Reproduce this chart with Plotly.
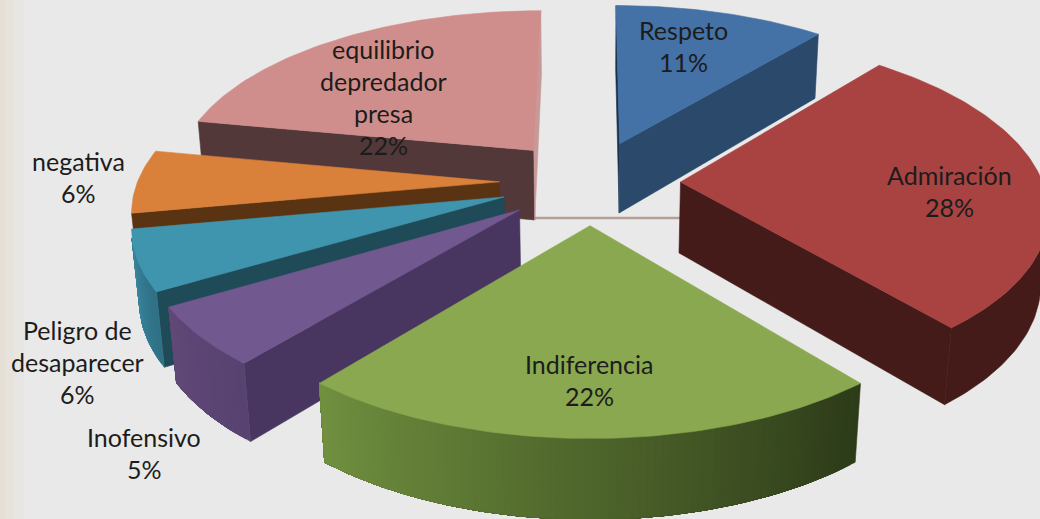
import math
import plotly.graph_objects as go

# ---- data ----
categories = ["Respeto", "Admiración", "Indiferencia", "Inofensivo",
              "Peligro de desaparecer", "negativa", "equilibrio depredador presa"]
shares = [11, 28, 22, 5.5, 5.6, 5.9, 22]
percent_labels = ["11%", "28%", "22%", "5%", "6%", "6%", "22%"]
label_lines = [["Respeto"], ["Admiración"], ["Indiferencia"], ["Inofensivo"],
               ["Peligro de", "desaparecer"], ["negativa"],
               ["equilibrio", "depredador", "presa"]]

# ---- styles ----
top_colors = ["#4471a6", "#a84342", "#8aa84f", "#71588f", "#3f95ae", "#d9803a", "#cf8e8c"]
start_colors = ["#17324f", "#451b19", "#2f3f1a", "#483560", "#1f4a58", "#5a3312", "#53383a"]
end_colors = ["#2b4a6b", "#451b19", "#6d8a3e", "#5e4775", "#377f96", "#8c5220", "#c79a98"]
rim_start = ["#2b4a6b", "#451b19", "#2c3a18", "#574270", "#2f6f84", "#8c5220", "#53383a"]
rim_end = ["#2b4a6b", "#451b19", "#70903f", "#604877", "#3b8aa2", "#b06a30", "#53383a"]
label_centres = [(683, 30), (949, 175), (589, 364), (144, 437), (77, 330), (78, 161), (383, 49)]
line_step = 32
PULL, DEPTH, STEP = 0.25, 0.225, 1.0
CX, CY, L, D = 590, 182, 362, 6.15
THETA = math.radians(27.7)
BG = "#e9e9e9"


def project(X, Y, Z=0.0):
    d = D + Y * math.cos(THETA) - Z * math.sin(THETA)
    v = Y * math.sin(THETA) + Z * math.cos(THETA)
    return CX + L * D * X / d, CY - L * D * v / d


def rgb(h):
    return [int(h[i:i + 2], 16) for i in (1, 3, 5)]


def mix(a, b, t):
    a, b = rgb(a), rgb(b)
    return "rgb(%d,%d,%d)" % tuple(round(a[i] + (b[i] - a[i]) * t) for i in range(3))


EYE = (0.0, -D * math.cos(THETA))
fig = go.Figure()


def poly(points, color, stroke=0.6):
    xs = [p[0] for p in points] + [points[0][0]]
    ys = [p[1] for p in points] + [points[0][1]]
    fig.add_trace(go.Scatter(x=xs, y=ys, mode="lines", fill="toself", fillcolor=color,
                             line=dict(color=color, width=stroke), hoverinfo="skip", showlegend=False))


def band(path, color):
    upper = [project(*p, 0) for p in path]
    lower = [project(*p, -DEPTH) for p in reversed(path)]
    poly(upper + lower, color)


# thin base line seen between the slices
fig.add_trace(go.Scatter(x=[535, 680], y=[218, 218], mode="lines",
                         line=dict(color="#b79e96", width=2.5), hoverinfo="skip", showlegend=False))

slices, cumulative = [], 0.0
for i, s in enumerate(shares):
    a = cumulative * 3.6
    cumulative += s
    b = cumulative * 3.6
    slices.append((i, a, b))
slices.sort(key=lambda r: -math.cos(math.radians((r[1] + r[2]) / 2)))

for i, a, b in slices:
    mid = math.radians((a + b) / 2)
    ox, oy = PULL * math.sin(mid), PULL * math.cos(mid)
    n = max(2, int((b - a) / STEP))
    angs = [a + (b - a) * k / n for k in range(n + 1)]
    rim = [(ox + math.sin(math.radians(t)), oy + math.cos(math.radians(t))) for t in angs]
    apex = (ox, oy)
    ra, rb = math.radians(a), math.radians(b)
    if (-math.cos(ra)) * (EYE[0] - ox) + math.sin(ra) * (EYE[1] - oy) > 0:
        band([apex, rim[0]], start_colors[i])
    if math.cos(rb) * (EYE[0] - ox) - math.sin(rb) * (EYE[1] - oy) > 0:
        band([apex, rim[-1]], end_colors[i])
    visible = [k for k in range(n)
               if math.sin(math.radians((angs[k] + angs[k + 1]) / 2)) * (EYE[0] - rim[k][0])
               + math.cos(math.radians((angs[k] + angs[k + 1]) / 2)) * (EYE[1] - rim[k][1]) > 0]
    if visible:
        last = visible[-1] + 1
        bands = 1 if rim_start[i] == rim_end[i] else len(visible)
        chunk = max(1, len(visible) // bands)
        # each band runs to the end of the visible rim; the next one overpaints it, so no seams
        for k in visible[::chunk]:
            band(rim[k:last + 1], mix(rim_start[i], rim_end[i], (k + 0.5) / n))
    poly([project(*apex)] + [project(*r) for r in rim], top_colors[i])

annotations = []
for i, lines in enumerate(label_lines):
    x, y = label_centres[i]
    for j, text in enumerate(lines + [percent_labels[i]]):
        annotations.append(dict(x=x, y=y + j * line_step, text=text, showarrow=False,
                                xref="x", yref="y", xanchor="center", yanchor="middle",
                                font=dict(family="Lato", size=25, color="#1c1c1c")))

strip = [(0, 6, "#e5dfd6"), (6, 14, "#e7e3dc"), (14, 24, "#e8e6e2")]
shapes = [dict(type="rect", xref="x", yref="y", x0=p, x1=q, y0=0, y1=519, line_width=0,
               fillcolor=c, layer="below") for p, q, c in strip]

fig.update_layout(width=1040, height=519, margin=dict(l=0, r=0, t=0, b=0),
                  paper_bgcolor=BG, plot_bgcolor=BG, showlegend=False,
                  annotations=annotations, shapes=shapes,
                  xaxis=dict(range=[0, 1040], visible=False, fixedrange=True),
                  yaxis=dict(range=[519, 0], visible=False, fixedrange=True))
fig.write_html("out.html", config=dict(displayModeBar=False),
               post_script="document.body.style.margin='0';document.body.style.overflow='hidden';")
